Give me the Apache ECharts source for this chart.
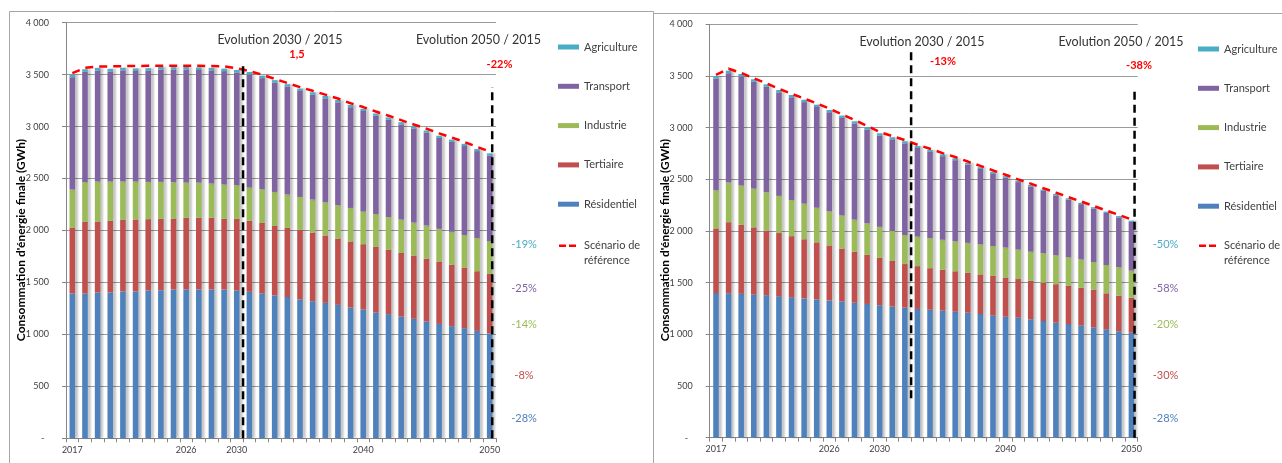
<!DOCTYPE html>
<html>
<head>
<meta charset="utf-8">
<script src="https://cdn.jsdelivr.net/npm/echarts@6/dist/echarts.min.js"></script>
<style>
html,body{margin:0;padding:0;background:#fff;}
#chart{width:1282px;height:463px;}
</style>
</head>
<body>
<div id="chart"></div>
<script>
// Years on the category axis and the few that carry a label
const years = ['2017','2018','2019','2020','2021','2022','2023','2024','2025','2026','2027','2028','2029','2030','2031','2032','2033','2034','2035','2036','2037','2038','2039','2040','2041','2042','2043','2044','2045','2046','2047','2048','2049','2050'];
const labelledYears = ['2017','2026','2030','2040','2050'];

// Left panel: final energy consumption by sector (GWh)
const residentielA = [1394,1394,1404,1404,1414,1414,1423,1426,1433,1433,1433,1433,1433,1423,1410,1394,1375,1359,1336,1320,1304,1285,1259,1240,1211,1195,1172,1150,1124,1101,1079,1060,1034,1009];
const tertiaireA   = [631,689,682,689,688,692,686,686,682,689,689,689,679,689,683,679,669,666,670,660,647,637,635,628,631,618,612,609,606,600,593,580,574,573];
const industrieA   = [369,381,385,378,369,365,359,356,349,339,339,330,330,324,320,324,327,321,317,318,321,321,323,314,315,315,321,317,318,315,315,315,318,312];
const transportA   = [1081,1063,1069,1060,1070,1064,1069,1081,1083,1088,1084,1089,1092,1085,1088,1069,1052,1039,1020,1009,1000,990,969,968,947,938,915,906,894,875,867,858,838,828];
const agricultureA = [25,25,25,25,25,25,25,25,25,25,25,25,24,24,24,24,24,23,23,23,23,23,22,22,22,22,22,21,21,21,21,21,20,20];
const referenceA   = [3515,3565,3578,3580,3582,3584,3585,3585,3585,3585,3585,3583,3580,3562,3535,3500,3460,3420,3380,3345,3308,3270,3225,3188,3145,3105,3062,3020,2980,2935,2895,2852,2805,2760];

// Right panel: final energy consumption by sector (GWh)
const residentielB = [1400,1398,1392,1385,1378,1368,1358,1348,1338,1328,1318,1306,1294,1282,1268,1258,1246,1238,1230,1219,1210,1197,1181,1171,1161,1145,1129,1113,1100,1087,1068,1049,1029,1016];
const tertiaireB   = [625,687,668,650,627,612,592,572,552,532,512,494,476,458,442,422,414,402,395,391,385,383,384,379,374,373,371,372,370,363,364,348,345,339];
const industrieB   = [369,385,380,375,370,360,350,345,335,330,320,310,305,300,290,280,285,290,290,290,290,290,290,290,285,282,285,280,275,275,268,274,275,261];
const transportB   = [1081,1056,1055,1034,1020,1001,993,982,975,959,944,930,907,884,887,888,858,835,809,785,758,730,703,675,653,630,603,580,557,535,517,504,483,472];
const agricultureB = [25,25,24,24,24,23,23,23,22,22,22,21,21,21,20,20,19,19,18,18,17,17,16,16,15,15,14,14,14,13,13,12,12,12];
const referenceB   = [3510,3570,3530,3478,3430,3376,3328,3282,3235,3184,3128,3074,3016,2958,2918,2880,2835,2796,2754,2716,2672,2630,2587,2544,2500,2458,2414,2372,2328,2286,2242,2198,2156,2112];

// Vertical dashed guides: position on the category scale (0..34) and GWh extent
const guidesA = [{at: 14, from: 0, to: 3608}, {at: 33.7, from: 0, to: 3382}];
const guidesB = [{at: 16, from: 381, to: 3751}, {at: 33.75, from: 0, to: 3381}];

// Sector change labels, top to bottom: Agriculture, Transport, Industrie, Tertiaire, Résidentiel
const changesA = ['-19%','-25%','-14%','-8%','-28%'];
const changesB = ['-50%','-58%','-20%','-30%','-28%'];
const headlineA = ['1,5','-22%'];
const headlineB = ['-13%','-38%'];

const COLORS = {
  'Agriculture': '#4BACC6',
  'Transport': '#8064A2',
  'Industrie': '#9BBB59',
  'Tertiaire': '#C0504D',
  'Résidentiel': '#4F81BD'
};
const FONT = 'Lato, "Open Sans", sans-serif';
const TXT = '#404040';

const chart = echarts.init(document.getElementById('chart'), null, {renderer: 'canvas'});

function catAxis(gridIndex) {
  return {
    type: 'category', gridIndex, data: years,
    axisLine: {lineStyle: {color: '#868686', width: 1}},
    axisTick: {show: true, length: 4, interval: 0, lineStyle: {color: '#868686'}},
    axisLabel: {
      interval: 0, margin: 7, color: TXT, fontSize: 9, fontFamily: FONT,
      formatter: v => labelledYears.includes(v) ? v : ''
    },
    splitLine: {show: false}
  };
}
function valAxis(gridIndex) {
  return {
    type: 'value', gridIndex, min: 0, max: 4000, interval: 500,
    axisLine: {show: true, lineStyle: {color: '#868686'}},
    axisTick: {show: true, length: 4, lineStyle: {color: '#868686'}},
    axisLabel: {
      margin: 17, color: TXT, fontSize: 9, fontFamily: FONT,
      formatter: v => v === 0 ? '-  ' : String(v).replace(/\B(?=(\d{3})+(?!\d))/g, ' ')
    },
    splitLine: {show: true, lineStyle: {color: '#9a9a9a', width: 1}}
  };
}
function guideAxis(gridIndex) {
  return {type: 'value', gridIndex, min: 0, max: 34, show: false};
}

function panelSeries(xIdx, guideIdx, yIdx, d, ref, guides) {
  const list = [];
  const parts = [
    ['Résidentiel', d.res], ['Tertiaire', d.ter], ['Industrie', d.ind],
    ['Transport', d.tra], ['Agriculture', d.agr]
  ];
  parts.forEach(([name, data]) => {
    list.push({
      name, type: 'bar', stack: 'total' + xIdx, xAxisIndex: xIdx, yAxisIndex: yIdx,
      data, barWidth: '44%',
      itemStyle: {
        color: COLORS[name],
        shadowColor: 'rgba(0,0,0,0.22)', shadowBlur: 2, shadowOffsetX: 3, shadowOffsetY: 0
      },
      emphasis: {disabled: true}
    });
  });
  list.push({
    name: 'Scénario de référence', type: 'line', xAxisIndex: xIdx, yAxisIndex: yIdx,
    data: ref, symbol: 'none', z: 5,
    lineStyle: {color: '#FF0000', width: 2.5, type: [8, 6]},
    itemStyle: {color: '#FF0000'}
  });
  guides.forEach((g, i) => {
    list.push({
      name: 'guide' + xIdx + '_' + i, type: 'line', xAxisIndex: guideIdx, yAxisIndex: yIdx,
      data: [[g.at, g.from], [g.at, g.to]], symbol: 'none', z: 6, silent: true,
      lineStyle: {color: '#000', width: 2.5, type: [8, 5]}
    });
  });
  return list;
}

function barLegend(left, top) {
  return {
    data: ['Agriculture', 'Transport', 'Industrie', 'Tertiaire', 'Résidentiel'],
    orient: 'vertical', left, top, itemWidth: 21, itemHeight: 5, itemGap: 25.3,
    icon: 'rect', selectedMode: false,
    textStyle: {color: TXT, fontSize: 11, fontFamily: FONT, lineHeight: 14}
  };
}
function lineLegend(left, top) {
  return {
    data: [{name: 'Scénario de référence', icon: 'path://M0,0H7V2.5H0Z M10,0H17V2.5H10Z'}],
    orient: 'vertical', left, top, itemWidth: 17, itemHeight: 2.5, selectedMode: false,
    // the blank first line keeps the dashes level with "Scénario de"
    formatter: () => ' \nScénario de\nréférence',
    textStyle: {color: TXT, fontSize: 11, fontFamily: FONT, lineHeight: 14.5, padding: [0, 0, 0, 3]}
  };
}

function label(text, x, y, color, size, weight) {
  return {
    type: 'text', x, y, silent: true,
    style: {text, fill: color, font: (weight || 'normal') + ' ' + size + 'px ' + FONT, align: 'center', verticalAlign: 'middle'}
  };
}

const sideColors = [COLORS['Agriculture'], COLORS['Transport'], COLORS['Industrie'], COLORS['Tertiaire'], COLORS['Résidentiel']];
const sideY = [244, 288.5, 324, 375.7, 418.5];

const graphics = [
  // panel frames
  {type: 'rect', shape: {x: 9.5, y: 11.5, width: 644, height: 470}, style: {fill: 'none', stroke: '#a6a6a6', lineWidth: 1}, silent: true, z: -10},
  {type: 'rect', shape: {x: 653.5, y: 13.5, width: 640, height: 470}, style: {fill: '#fff', stroke: '#a6a6a6', lineWidth: 1}, silent: true, z: -9},
  // axis titles
  {type: 'text', x: 21, y: 240, rotation: Math.PI / 2, silent: true,
   style: {text: "Consommation d'énergie finale (GWh)", fill: '#000', font: 'bold 12px ' + FONT, align: 'center', verticalAlign: 'middle'}},
  {type: 'text', x: 665.5, y: 240, rotation: Math.PI / 2, silent: true,
   style: {text: "Consommation d'énergie finale (GWh)", fill: '#000', font: 'bold 12px ' + FONT, align: 'center', verticalAlign: 'middle'}},
  // headings
  label('Evolution 2030 / 2015', 280, 40, '#333', 12.5),
  label(headlineA[0], 297, 54, '#FF0000', 11, 'bold'),
  label('Evolution 2050 / 2015', 478.5, 40, '#333', 12.5),
  label(headlineA[1], 499.5, 64, '#FF0000', 11, 'bold'),
  label('Evolution 2030 / 2015', 922, 42, '#333', 12.5),
  label(headlineB[0], 943, 61, '#FF0000', 11, 'bold'),
  label('Evolution 2050 / 2015', 1121, 42, '#333', 12.5),
  label(headlineB[1], 1139, 65, '#FF0000', 11, 'bold')
];
changesA.forEach((t, i) => graphics.push(label(t, 524, sideY[i], sideColors[i], 11)));
changesB.forEach((t, i) => graphics.push(label(t, 1165.5, sideY[i], sideColors[i], 11)));

const option = {
  animation: false,
  backgroundColor: '#fff',
  grid: [
    {left: 66, top: 22.7, width: 430, height: 415.6},
    {left: 709.7, top: 24.3, width: 428, height: 413.4}
  ],
  xAxis: [catAxis(0), catAxis(1), guideAxis(0), guideAxis(1)],
  yAxis: [valAxis(0), valAxis(1)],
  legend: [barLegend(553, 35), lineLegend(554, 219), barLegend(1193, 37), lineLegend(1194, 219)],
  series: [
    ...panelSeries(0, 2, 0, {res: residentielA, ter: tertiaireA, ind: industrieA, tra: transportA, agr: agricultureA}, referenceA, guidesA),
    ...panelSeries(1, 3, 1, {res: residentielB, ter: tertiaireB, ind: industrieB, tra: transportB, agr: agricultureB}, referenceB, guidesB)
  ],
  graphic: graphics
};
chart.setOption(option);
</script>
</body>
</html>
